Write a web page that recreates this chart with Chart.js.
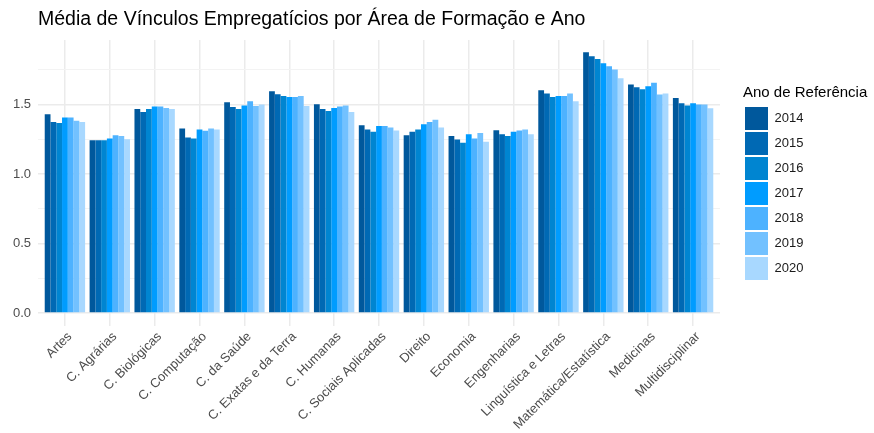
<!DOCTYPE html>
<html>
<head>
<meta charset="utf-8">
<script src="https://cdn.jsdelivr.net/npm/chart.js@4"></script>
<style>
  html, body { margin: 0; padding: 0; background: #fff; }
  #wrap { width: 874px; height: 433px; }
</style>
</head>
<body>
<div id="wrap"><canvas id="vinculosChart" width="874" height="433"></canvas></div>
<script>
// Dados
const categorias = ['Artes', 'C. Agrárias', 'C. Biológicas', 'C. Computação', 'C. da Saúde',
  'C. Exatas e da Terra', 'C. Humanas', 'C. Sociais Aplicadas', 'Direito', 'Economia',
  'Engenharias', 'Linguística e Letras', 'Matemática/Estatística', 'Medicinas', 'Multidisciplinar'];
const anos = ['2014', '2015', '2016', '2017', '2018', '2019', '2020'];
const v2014 = [1.431, 1.244, 1.469, 1.328, 1.517, 1.596, 1.503, 1.352, 1.280, 1.273, 1.316, 1.603, 1.876, 1.644, 1.548];
const v2015 = [1.375, 1.244, 1.447, 1.263, 1.483, 1.574, 1.469, 1.321, 1.304, 1.249, 1.287, 1.579, 1.848, 1.625, 1.510];
const v2016 = [1.368, 1.244, 1.469, 1.256, 1.469, 1.562, 1.454, 1.304, 1.321, 1.225, 1.273, 1.555, 1.829, 1.610, 1.493];
const v2017 = [1.407, 1.256, 1.486, 1.321, 1.493, 1.555, 1.476, 1.345, 1.359, 1.287, 1.304, 1.562, 1.798, 1.632, 1.510];
const v2018 = [1.407, 1.280, 1.486, 1.311, 1.524, 1.555, 1.486, 1.345, 1.375, 1.256, 1.314, 1.562, 1.776, 1.658, 1.500];
const v2019 = [1.383, 1.273, 1.476, 1.328, 1.490, 1.562, 1.493, 1.335, 1.390, 1.296, 1.321, 1.579, 1.752, 1.572, 1.500];
const v2020 = [1.375, 1.251, 1.469, 1.321, 1.500, 1.490, 1.447, 1.314, 1.335, 1.232, 1.287, 1.524, 1.690, 1.579, 1.474];
const valores = [v2014, v2015, v2016, v2017, v2018, v2019, v2020];
const yTicks = [0, 0.5, 1.0, 1.5];

const cores = ['#00589C', '#0069B4', '#0085D1', '#009CFF', '#4DB2FF', '#72C1FF', '#A8D8FF'];
const fonte = '"Liberation Sans", Arial, sans-serif';

const datasets = anos.map((ano, i) => ({
    label: ano,
    data: valores[i].map((v, j) => ({ x: j, y: v })),
    backgroundColor: cores[i],
    borderWidth: 0,
    categoryPercentage: 0.9,
    barPercentage: 1.0
}));

// Legenda com largura fixa (o título é mais largo que os itens)
const larguraLegenda = {
    id: 'larguraLegenda',
    beforeLayout(chart) {
        const lg = chart.legend;
        if (lg && !lg._larguraFixa) {
            const fitOriginal = lg.fit.bind(lg);
            lg.fit = function () { fitOriginal(); this.width = 126; };
            lg._larguraFixa = true;
        }
    }
};

// Gráfico de barras agrupadas
const chart = new Chart(document.getElementById('vinculosChart').getContext('2d'), {
    type: 'bar',
    data: { datasets },
    plugins: [larguraLegenda],
    options: {
        responsive: false,
        animation: false,
        layout: { padding: { left: 0, top: 0, bottom: 0, right: 5 } },
        plugins: {
            tooltip: { enabled: false },
            title: {
                display: true,
                text: 'Média de Vínculos Empregatícios por Área de Formação e Ano',
                align: 'start',
                fullSize: false,
                color: '#000000',
                font: { family: fonte, size: 19.5, weight: 'normal', lineHeight: 1.2 },
                padding: { top: 8, bottom: 8.6 }
            },
            legend: {
                position: 'right',
                align: 'start',
                title: {
                    display: true,
                    text: 'Ano de Referência',
                    position: 'start',
                    color: '#000000',
                    font: { family: fonte, size: 15, lineHeight: 1.2 },
                    padding: { top: 85.5, bottom: 1.5 }
                },
                labels: {
                    boxWidth: 23,
                    boxHeight: 23,
                    padding: 2,
                    color: '#1A1A1A',
                    font: { family: fonte, size: 13 }
                }
            }
        },
        scales: {
            x: {
                type: 'linear',
                offset: false,
                min: -0.6,
                max: 14.6,
                afterBuildTicks: s => { s.ticks = categorias.map((_, i) => ({ value: i })); },
                afterFit: s => { s.height = 107; },
                grid: { offset: false, color: '#EBEBEB', lineWidth: 1.5, drawTicks: false },
                border: { display: false },
                ticks: {
                    autoSkip: false,
                    minRotation: 45,
                    maxRotation: 45,
                    padding: 3,
                    labelOffset: 5,
                    color: '#4D4D4D',
                    font: { family: fonte, size: 13 },
                    callback: v => categorias[v]
                }
            },
            y: {
                min: -0.094,
                max: 1.965,
                afterFit: s => { s.width = 38; },
                grid: {
                    drawTicks: false,
                    color: c => yTicks.includes(c.tick.value) ? '#EBEBEB' : '#F3F3F3',
                    lineWidth: c => yTicks.includes(c.tick.value) ? 1.5 : 1
                },
                border: { display: false },
                ticks: {
                    stepSize: 0.25,
                    includeBounds: false,
                    padding: 7,
                    color: '#4D4D4D',
                    font: { family: fonte, size: 13 },
                    callback: v => yTicks.includes(v) ? v.toFixed(1) : ''
                }
            },
            espaco: {
                position: 'right',
                display: true,
                grid: { display: false },
                border: { display: false },
                ticks: { display: false },
                afterFit: s => { s.width = 23; }
            }
        }
    }
});
</script>
</body>
</html>
